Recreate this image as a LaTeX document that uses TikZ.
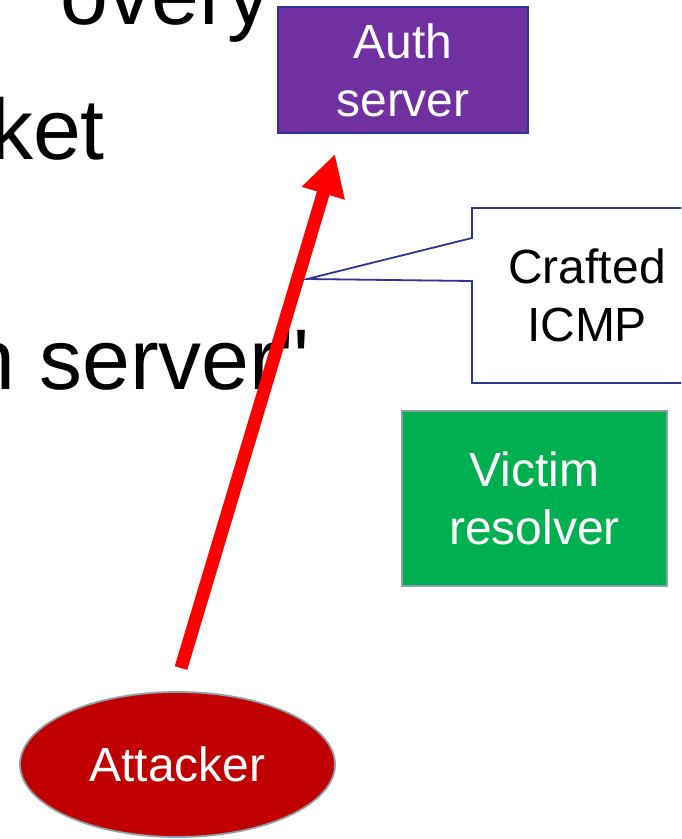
\documentclass[tikz,border=0pt]{standalone}
\usepackage{fontspec}
\setmainfont{Liberation Sans}[Ligatures=TeXOff]
\usetikzlibrary{arrows.meta,shapes.geometric}

\definecolor{authpurple}{HTML}{7030A0}
\definecolor{authedge}{HTML}{2F3592}
\definecolor{victimgreen}{HTML}{00B050}
\definecolor{attackred}{HTML}{C00000}
\definecolor{greyedge}{HTML}{8DA1A8}

\begin{document}
\begin{tikzpicture}[x=1pt, y=-1pt,
    slidetext/.style={inner sep=0pt, anchor=base east, font=\fontsize{86}{103}\selectfont},
    hostbox/.style={line width=1.8pt, inner sep=0pt, align=center, text=white,
        font=\fontsize{48}{58}\selectfont},
    shot/.style={draw=red, line width=13pt, -{Triangle[length=41pt, width=42pt]}}]
        \path[clip, use as bounding box] (0,0) rectangle (681,839);
        % what is left of the slide text behind
        \node[slidetext] (title) at (271,24) {overy};
        \node[slidetext] (lineone) at (105,159) {ket};
        \node[slidetext] (linetwo) at (309,389) {n server"};
        % the hosts
        \node[hostbox, draw=authedge, fill=authpurple, minimum width=250pt, minimum height=126pt]
            (auth) at (403,70) {Auth\\server};
        \node[hostbox, draw=greyedge, fill=victimgreen, minimum width=265pt, minimum height=175pt]
            (victim) at (534.5,498.5) {Victim\\resolver};
        \node[hostbox, ellipse, draw=greyedge, fill=attackred, minimum width=315pt, minimum height=145pt]
            (attacker) at (177.5,764.5) {Attacker};
        % spoofed packet
        \coordinate (shotfoot) at (181,668);
        \coordinate (shottip) at (335,154);
        \draw[shot] (shotfoot) -- (shottip);
        % callout box
        \coordinate (calloutpin) at (307,279);
        \draw[authedge, line width=1.8pt, fill=white]
            (472,208) -- (702,208) -- (702,383) -- (472,383) -- (472,281)
            -- (calloutpin) -- (472,238) -- cycle;
        \node[align=center, inner sep=0pt, font=\fontsize{48}{58}\selectfont]
            (crafted) at (587,295.5) {Crafted\\ICMP};
    \end{tikzpicture}
\end{document}
